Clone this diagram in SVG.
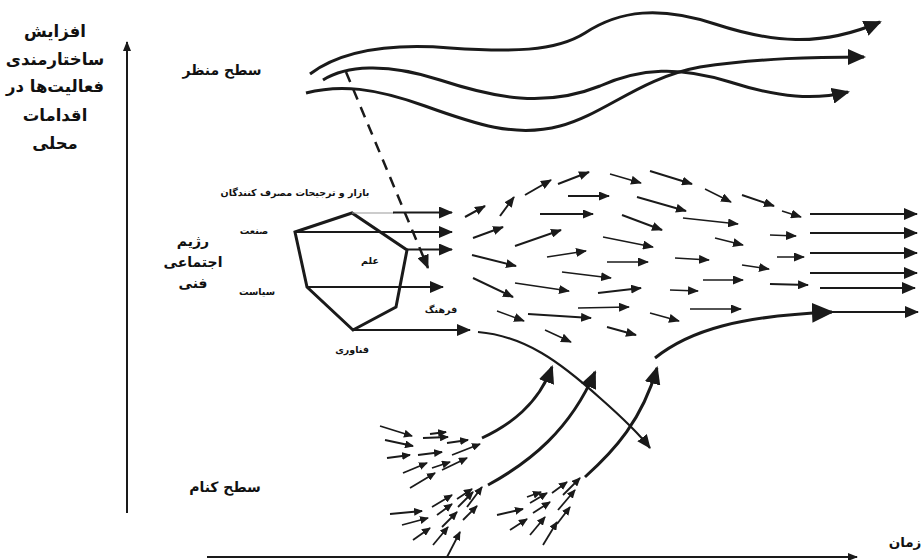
<svg xmlns="http://www.w3.org/2000/svg" width="923" height="560" viewBox="0 0 923 560">
<style>
.t{font-family:"DejaVu Sans","Noto Sans",sans-serif;font-weight:bold;fill:#111;text-anchor:middle}
.big{font-size:14px}
.lft{font-size:16.5px}
.sm{font-size:9.5px}
.ln{stroke:#1a1a1a;fill:none;stroke-linecap:butt}
.fa{stroke:#1a1a1a;stroke-width:2;marker-end:url(#ah)}
.fb{stroke:#1a1a1a;stroke-width:1.5;marker-end:url(#ah)}
.ra{stroke:#1a1a1a;stroke-width:2.2;marker-end:url(#am)}
.land{stroke:#1a1a1a;stroke-width:3;fill:none;marker-end:url(#al)}
.niche{stroke:#1a1a1a;stroke-width:3;fill:none;marker-end:url(#al)}
.na{stroke:#1a1a1a;stroke-width:1.8;marker-end:url(#as)}
</style>
<defs>
<marker id="ah" markerUnits="userSpaceOnUse" markerWidth="11" markerHeight="9" refX="10" refY="4.5" orient="auto"><path d="M0,0 L11,4.5 L0,9 z" fill="#1a1a1a"/></marker>
<marker id="as" markerUnits="userSpaceOnUse" markerWidth="9" markerHeight="8" refX="8" refY="4" orient="auto"><path d="M0,0 L9,4 L0,8 z" fill="#1a1a1a"/></marker>
<marker id="am" markerUnits="userSpaceOnUse" markerWidth="14" markerHeight="12" refX="13" refY="6" orient="auto"><path d="M0,0 L14,6 L0,12 z" fill="#1a1a1a"/></marker>
<marker id="al" markerUnits="userSpaceOnUse" markerWidth="18" markerHeight="16" refX="16" refY="8" orient="auto"><path d="M0,0 L18,8 L0,16 z" fill="#1a1a1a"/></marker>
<marker id="ab" markerUnits="userSpaceOnUse" markerWidth="22" markerHeight="20" refX="20" refY="10" orient="auto"><path d="M0,0 L22,10 L0,20 z" fill="#1a1a1a"/></marker>
<marker id="ax" markerUnits="userSpaceOnUse" markerWidth="10" markerHeight="8" refX="9" refY="4" orient="auto"><path d="M0,0 L10,4 L0,8 z" fill="#1a1a1a"/></marker>
</defs>
<rect width="923" height="560" fill="#fff"/>

<g id="axis-label">
<text class="t lft" x="55" y="37">افزایش</text>
<text class="t lft" x="55" y="65">ساختارمندی</text>
<text class="t lft" x="55" y="92">فعالیت‌ها در</text>
<text class="t lft" x="55" y="121">اقدامات</text>
<text class="t lft" x="55" y="149">محلی</text>
</g>
<g id="time-label"><text class="t" style="font-size:13.5px" x="905" y="547">زمان</text></g>
<g id="landscape"><text class="t big" x="222" y="75">سطح منظر</text></g>
<g id="regime">
<text class="t big" x="193" y="246">رژیم</text>
<text class="t big" x="193" y="267">اجتماعی</text>
<text class="t big" x="193" y="288">فنی</text>
<polygon points="295,232 352,213 407,250 396,307 353,330 307,287" fill="none" stroke="#1a1a1a" stroke-width="3" stroke-linejoin="miter"/>
<text class="t sm" x="295" y="196">بازار و ترجیحات مصرف کنندگان</text>
<text class="t sm" x="254" y="234">صنعت</text>
<text class="t sm" x="370" y="264">علم</text>
<text class="t sm" x="257" y="295">سیاست</text>
<text class="t sm" x="441" y="313">فرهنگ</text>
<text class="t sm" x="352" y="353">فناوری</text>
</g>
<g id="niche"><text class="t big" x="225" y="492">سطح کنام</text></g>

<g id="connectors">
<line class="ln" x1="127" y1="513" x2="127" y2="42" stroke-width="2" marker-end="url(#ax)"/>
<line class="ln" x1="207" y1="557" x2="857" y2="557" stroke-width="2" marker-end="url(#ax)"/>

<path class="land" d="M310,74 C345,48 400,44 450,48 C510,52 555,52 585,33 C620,10 660,6 715,24 C770,42 820,48 880,22"/>
<path class="land" d="M323,80 C345,66 385,62 440,80 C495,98 545,108 600,86 C640,68 680,66 730,82 C780,98 815,100 848,92"/>
<path class="land" d="M306,93 C340,84 375,88 425,106 C475,124 515,138 560,126 C605,114 640,78 700,67 C760,58 815,57 864,57"/>
<path class="ln" d="M346,72 Q385,165 428,268" stroke-width="2.5" stroke-dasharray="11,8" marker-end="url(#am)"/>

<line x1="352" y1="213" x2="394" y2="213" stroke="#999" stroke-width="1.2"/>
<line class="ra" x1="393" y1="212.5" x2="452" y2="212.5"/>
<line class="ra" x1="295" y1="232" x2="452" y2="232"/>
<line class="ra" x1="407" y1="249.5" x2="452" y2="249.5"/>
<line class="ra" x1="307" y1="287" x2="443" y2="287"/>
<line class="ra" x1="353" y1="330" x2="470" y2="330"/>

<line class="fa" x1="465" y1="217" x2="485" y2="206"/>
<line class="fa" x1="500" y1="216" x2="514" y2="197"/>
<line class="fa" x1="525" y1="195" x2="551" y2="180"/>
<line class="fa" x1="558" y1="184" x2="589" y2="172"/>
<line class="fb" x1="610" y1="174" x2="641" y2="183"/>
<line class="fa" x1="650" y1="171" x2="692" y2="184"/>
<line class="fa" x1="568" y1="196" x2="609" y2="196"/>
<line class="fa" x1="637" y1="197" x2="686" y2="211"/>
<line class="fa" x1="540" y1="214" x2="593" y2="214"/>
<line class="fa" x1="622" y1="215" x2="662" y2="230"/>
<line class="fa" x1="473" y1="238" x2="503" y2="227"/>
<line class="fa" x1="515" y1="246" x2="561" y2="230"/>
<line class="fb" x1="547" y1="257" x2="586" y2="251"/>
<line class="fb" x1="603" y1="237" x2="653" y2="247"/>
<line class="fb" x1="607" y1="262" x2="648" y2="262"/>
<line class="fa" x1="472" y1="255" x2="516" y2="266"/>
<line class="fb" x1="562" y1="272" x2="611" y2="278"/>
<line class="fa" x1="473" y1="278" x2="513" y2="297"/>
<line class="fb" x1="515" y1="283" x2="569" y2="291"/>
<line class="fa" x1="598" y1="293" x2="641" y2="288"/>
<line class="fb" x1="497" y1="311" x2="524" y2="321"/>
<line class="fa" x1="528" y1="314" x2="591" y2="318"/>
<line class="fb" x1="578" y1="308" x2="629" y2="307"/>
<line class="fb" x1="545" y1="330" x2="571" y2="342"/>
<line class="fa" x1="607" y1="327" x2="636" y2="335"/>
<line class="fb" x1="650" y1="313" x2="679" y2="321"/>
<line class="fb" x1="705" y1="189" x2="731" y2="202"/>
<line class="fa" x1="742" y1="195" x2="774" y2="206"/>
<line class="fb" x1="782" y1="211" x2="801" y2="217"/>
<line class="fb" x1="683" y1="218" x2="738" y2="224"/>
<line class="fb" x1="715" y1="238" x2="743" y2="245"/>
<line class="fb" x1="770" y1="235" x2="796" y2="236"/>
<line class="fb" x1="675" y1="258" x2="709" y2="260"/>
<line class="fb" x1="777" y1="257" x2="804" y2="257"/>
<line class="fb" x1="742" y1="265" x2="769" y2="269"/>
<line class="fb" x1="703" y1="280" x2="743" y2="280"/>
<line class="fb" x1="670" y1="290" x2="698" y2="291"/>
<line class="fa" x1="770" y1="284" x2="808" y2="285"/>
<line class="fb" x1="690" y1="309" x2="741" y2="309"/>

<line class="ra" x1="810" y1="214" x2="917" y2="214"/>
<line class="ra" x1="810" y1="233" x2="917" y2="233"/>
<line class="ra" x1="810" y1="253" x2="917" y2="253"/>
<line class="ra" x1="810" y1="273" x2="917" y2="273"/>
<line class="ra" x1="820" y1="288" x2="915" y2="288"/>
<line class="ra" x1="832" y1="312" x2="918" y2="312"/>

<path class="ln" d="M655,358 C690,330 740,316 832,312" stroke-width="3" marker-end="url(#ab)"/>
<path class="ln" d="M478,332 C525,336 560,362 600,398 C625,420 640,435 650,448" stroke-width="2.2" marker-end="url(#am)"/>

<path class="niche" d="M482,438 C510,425 538,405 552,367"/>
<path class="niche" d="M488,485 C530,462 570,430 595,372"/>
<path class="niche" d="M585,477 C615,450 642,420 657,368"/>

<line class="na" x1="380" y1="426" x2="412" y2="436"/>
<line class="na" x1="385" y1="440" x2="413" y2="446"/>
<line class="na" x1="387" y1="458" x2="410" y2="455"/>
<line class="na" x1="403" y1="473" x2="427" y2="463"/>
<line class="na" x1="410" y1="488" x2="435" y2="473"/>
<line class="na" x1="423" y1="438" x2="448" y2="437"/>
<line class="na" x1="418" y1="455" x2="442" y2="452"/>
<line class="na" x1="432" y1="468" x2="450" y2="462"/>
<line class="na" x1="447" y1="443" x2="468" y2="440"/>
<line class="na" x1="452" y1="455" x2="480" y2="444"/>
<line class="na" x1="442" y1="470" x2="467" y2="458"/>
<line class="na" x1="430" y1="434" x2="446" y2="432"/>

<line class="na" x1="390" y1="514" x2="422" y2="511"/>
<line class="na" x1="402" y1="525" x2="428" y2="518"/>
<line class="na" x1="413" y1="540" x2="430" y2="528"/>
<line class="na" x1="433" y1="545" x2="448" y2="527"/>
<line class="na" x1="447" y1="557" x2="460" y2="532"/>
<line class="na" x1="432" y1="507" x2="452" y2="495"/>
<line class="na" x1="437" y1="515" x2="452" y2="504"/>
<line class="na" x1="442" y1="527" x2="457" y2="512"/>
<line class="na" x1="458" y1="507" x2="473" y2="492"/>
<line class="na" x1="463" y1="520" x2="477" y2="506"/>
<line class="na" x1="467" y1="507" x2="482" y2="487"/>
<line class="na" x1="457" y1="499" x2="472" y2="489"/>

<line class="na" x1="497" y1="515" x2="523" y2="509"/>
<line class="na" x1="510" y1="530" x2="527" y2="519"/>
<line class="na" x1="527" y1="497" x2="541" y2="492"/>
<line class="na" x1="530" y1="503" x2="547" y2="493"/>
<line class="na" x1="533" y1="513" x2="550" y2="502"/>
<line class="na" x1="530" y1="535" x2="545" y2="517"/>
<line class="na" x1="543" y1="545" x2="557" y2="522"/>
<line class="na" x1="552" y1="493" x2="567" y2="482"/>
<line class="na" x1="558" y1="510" x2="575" y2="490"/>
<line class="na" x1="557" y1="524" x2="570" y2="507"/>
<line class="na" x1="563" y1="495" x2="580" y2="478"/>
</g>
</svg>
